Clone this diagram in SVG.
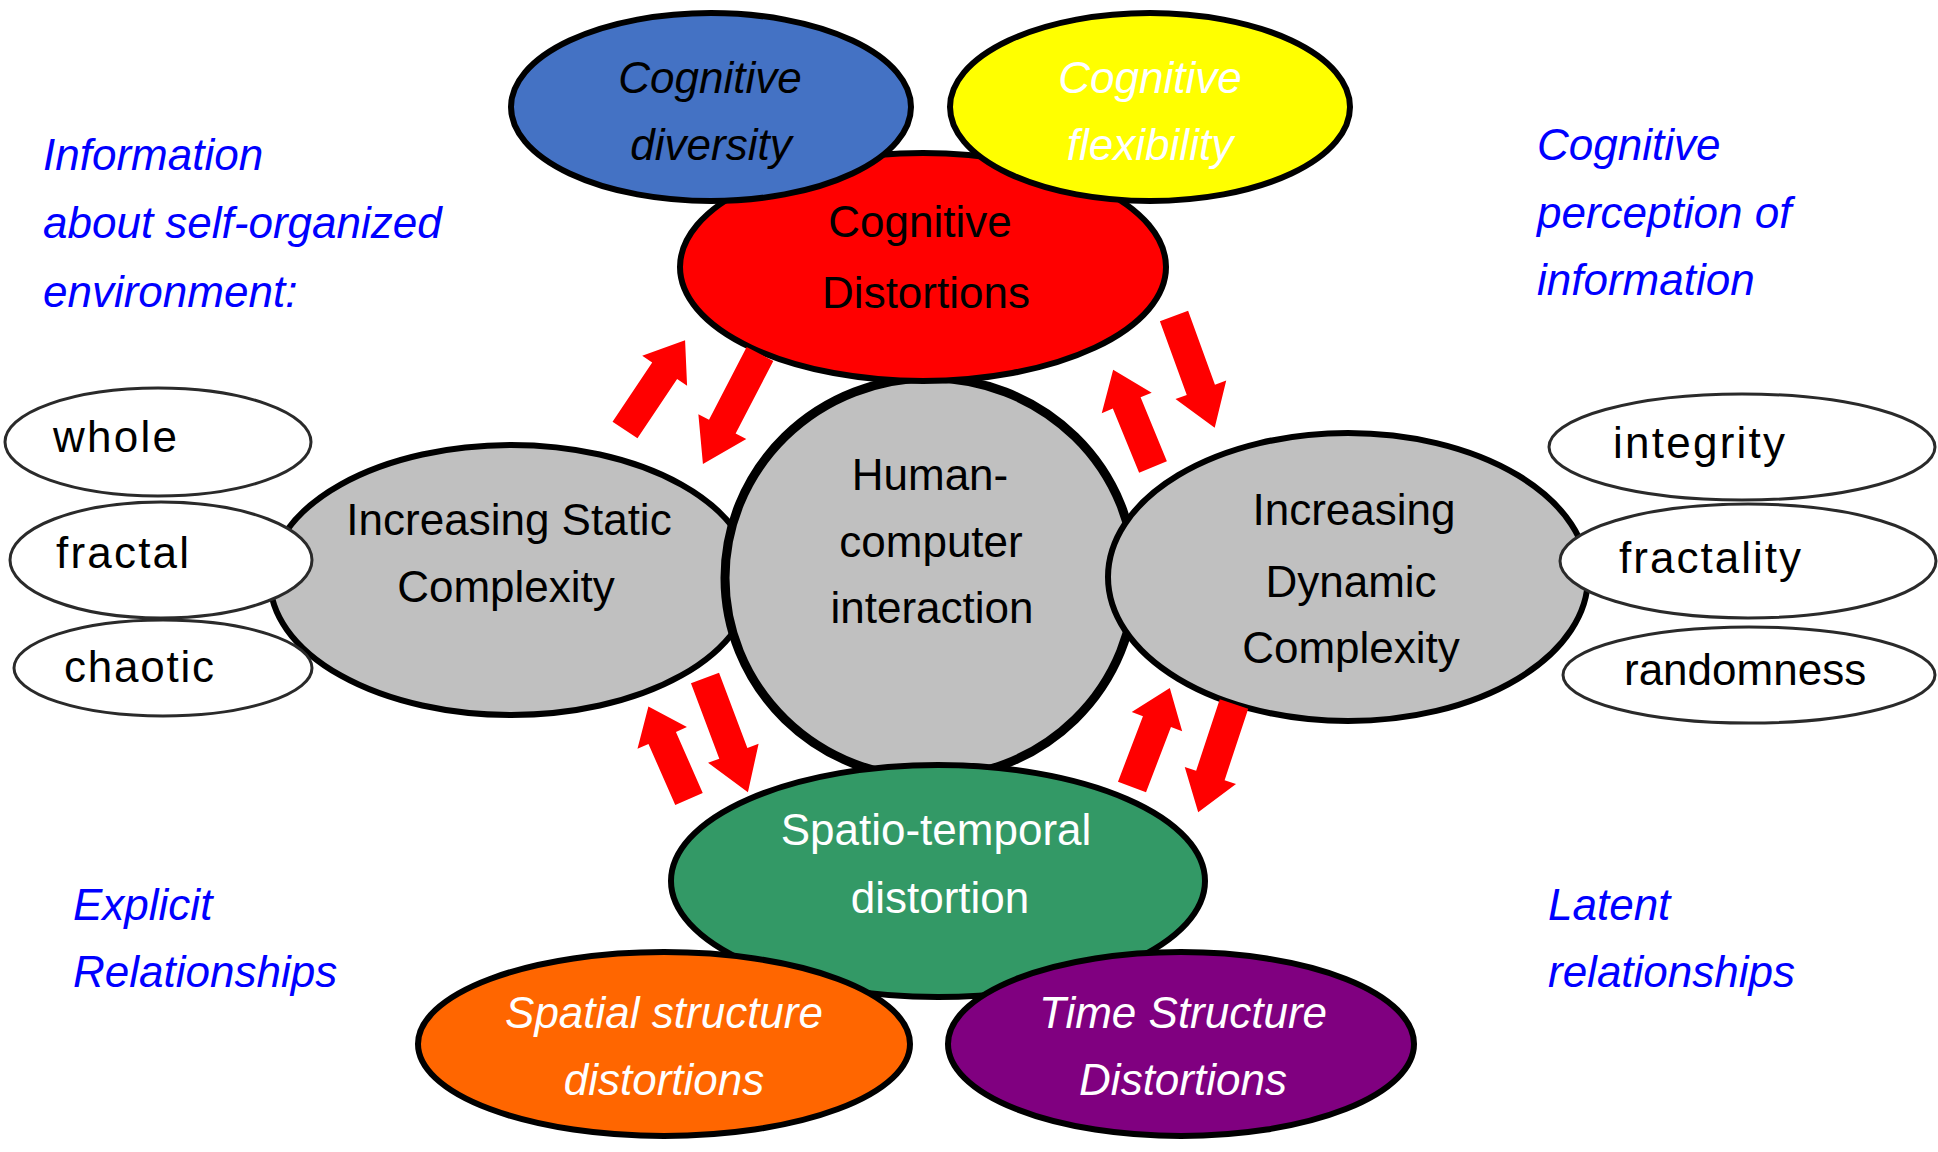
<svg xmlns="http://www.w3.org/2000/svg" width="1938" height="1152" viewBox="0 0 1938 1152">
  <style>
    text { font-family: "Liberation Sans", Arial, sans-serif; font-size: 44px; }
    .mid { text-anchor: middle; }
    .dark { fill: #000000; }
    .light { fill: #ffffff; }
    .it { font-style: italic; }
    .note { fill: #0000ff; font-style: italic; }
    .main { stroke: #000000; stroke-width: 6; }
    .hub { stroke: #000000; stroke-width: 9; }
    .leaf { fill: #ffffff; stroke: #2a2a2a; stroke-width: 3; }
    .arrow { fill: #ff0000; }
  </style>
  <defs>
    <!-- block arrow, tail at origin, tip at (100,0) -->
    <polygon id="blockArrow" points="0,-15 66,-15 66,-27 100,0 66,27 66,15 0,15"/>
  </defs>

  <rect width="1938" height="1152" fill="#ffffff"/>

  <!-- side explanations -->
  <g id="note-info">
    <text class="note" x="43" y="170">Information</text>
    <text class="note" x="43" y="238">about self-organized</text>
    <text class="note" x="43" y="307">environment:</text>
  </g>
  <g id="note-perception">
    <text class="note" x="1537" y="160">Cognitive</text>
    <text class="note" x="1537" y="228">perception of</text>
    <text class="note" x="1537" y="295">information</text>
  </g>
  <g id="note-explicit">
    <text class="note" x="73" y="920">Explicit</text>
    <text class="note" x="73" y="987">Relationships</text>
  </g>
  <g id="note-latent">
    <text class="note" x="1548" y="920">Latent</text>
    <text class="note" x="1548" y="987">relationships</text>
  </g>

  <!-- central cluster -->
  <g id="static-complexity">
    <ellipse class="main" cx="511" cy="580" rx="241" ry="135" fill="#c0c0c0"/>
    <text class="mid dark" x="509" y="535">Increasing Static</text>
    <text class="mid dark" x="506" y="602">Complexity</text>
  </g>
  <g id="hci">
    <ellipse class="hub" cx="930" cy="578" rx="205" ry="200" fill="#c0c0c0"/>
    <text class="mid dark" x="930" y="490">Human-</text>
    <text class="mid dark" x="931" y="557">computer</text>
    <text class="mid dark" x="932" y="623">interaction</text>
  </g>
  <g id="dynamic-complexity">
    <ellipse class="main" cx="1348" cy="577" rx="240" ry="144" fill="#c0c0c0"/>
    <text class="mid dark" x="1354" y="525">Increasing</text>
    <text class="mid dark" x="1351" y="597">Dynamic</text>
    <text class="mid dark" x="1351" y="663">Complexity</text>
  </g>
  <g id="cognitive-distortions">
    <ellipse class="main" cx="923" cy="267" rx="243" ry="114" fill="#ff0000"/>
    <text class="mid dark" x="920" y="237">Cognitive</text>
    <text class="mid dark" x="926" y="308">Distortions</text>
  </g>
  <g id="spatio-temporal">
    <ellipse class="main" cx="938" cy="881" rx="267" ry="116" fill="#339966"/>
    <text class="mid light" x="936" y="845">Spatio-temporal</text>
    <text class="mid light" x="940" y="913">distortion</text>
  </g>

  <!-- satellites -->
  <g id="cognitive-diversity">
    <ellipse class="main" cx="711" cy="107" rx="200" ry="94" fill="#4472c4"/>
    <text class="mid dark it" x="710" y="93">Cognitive</text>
    <text class="mid dark it" x="711" y="160">diversity</text>
  </g>
  <g id="cognitive-flexibility">
    <ellipse class="main" cx="1150" cy="107" rx="200" ry="94" fill="#ffff00"/>
    <text class="mid light it" x="1150" y="93">Cognitive</text>
    <text class="mid light it" x="1150" y="160">flexibility</text>
  </g>
  <g id="spatial-structure">
    <ellipse class="main" cx="664" cy="1044" rx="246" ry="92" fill="#ff6600"/>
    <text class="mid light it" x="664" y="1028">Spatial structure</text>
    <text class="mid light it" x="664" y="1095">distortions</text>
  </g>
  <g id="time-structure">
    <ellipse class="main" cx="1181" cy="1044" rx="233" ry="92" fill="#800080"/>
    <text class="mid light it" x="1183" y="1028">Time Structure</text>
    <text class="mid light it" x="1183" y="1095">Distortions</text>
  </g>

  <!-- static complexity kinds -->
  <g id="whole">
    <ellipse class="leaf" cx="158" cy="442" rx="153" ry="54"/>
    <text class="dark" x="53" y="452" textLength="124" lengthAdjust="spacing">whole</text>
  </g>
  <g id="chaotic">
    <ellipse class="leaf" cx="163" cy="668" rx="149" ry="48"/>
    <text class="dark" x="64" y="682" textLength="150" lengthAdjust="spacing">chaotic</text>
  </g>
  <g id="fractal">
    <ellipse class="leaf" cx="161" cy="560" rx="151" ry="58"/>
    <text class="dark" x="56" y="568" textLength="133" lengthAdjust="spacing">fractal</text>
  </g>

  <!-- dynamic complexity kinds -->
  <g id="integrity">
    <ellipse class="leaf" cx="1742" cy="447" rx="193" ry="53"/>
    <text class="dark" x="1613" y="458" textLength="172" lengthAdjust="spacing">integrity</text>
  </g>
  <g id="randomness">
    <ellipse class="leaf" cx="1749" cy="675" rx="186" ry="48"/>
    <text class="dark" x="1624" y="685">randomness</text>
  </g>
  <g id="fractality">
    <ellipse class="leaf" cx="1748" cy="561" rx="188" ry="57"/>
    <text class="dark" x="1619" y="573" textLength="182" lengthAdjust="spacing">fractality</text>
  </g>

  <!-- two-way exchange arrows -->
  <g id="connectors" class="arrow">
    <use href="#blockArrow" transform="translate(625,430) rotate(-56.2) scale(1.08,1)"/>
    <use href="#blockArrow" transform="translate(760,354) rotate(117.4) scale(1.24,1)"/>
    <use href="#blockArrow" transform="translate(1153,467) rotate(-112.3) scale(1.05,1)"/>
    <use href="#blockArrow" transform="translate(1174,316) rotate(70) scale(1.19,1)"/>
    <use href="#blockArrow" transform="translate(689,799) rotate(-113.7) scale(1.01,1)"/>
    <use href="#blockArrow" transform="translate(705,678) rotate(69.4) scale(1.22,1)"/>
    <use href="#blockArrow" transform="translate(1132,787) rotate(-69.1) scale(1.06,1)"/>
    <use href="#blockArrow" transform="translate(1234,704) rotate(108.3) scale(1.14,1)"/>
  </g>
</svg>
